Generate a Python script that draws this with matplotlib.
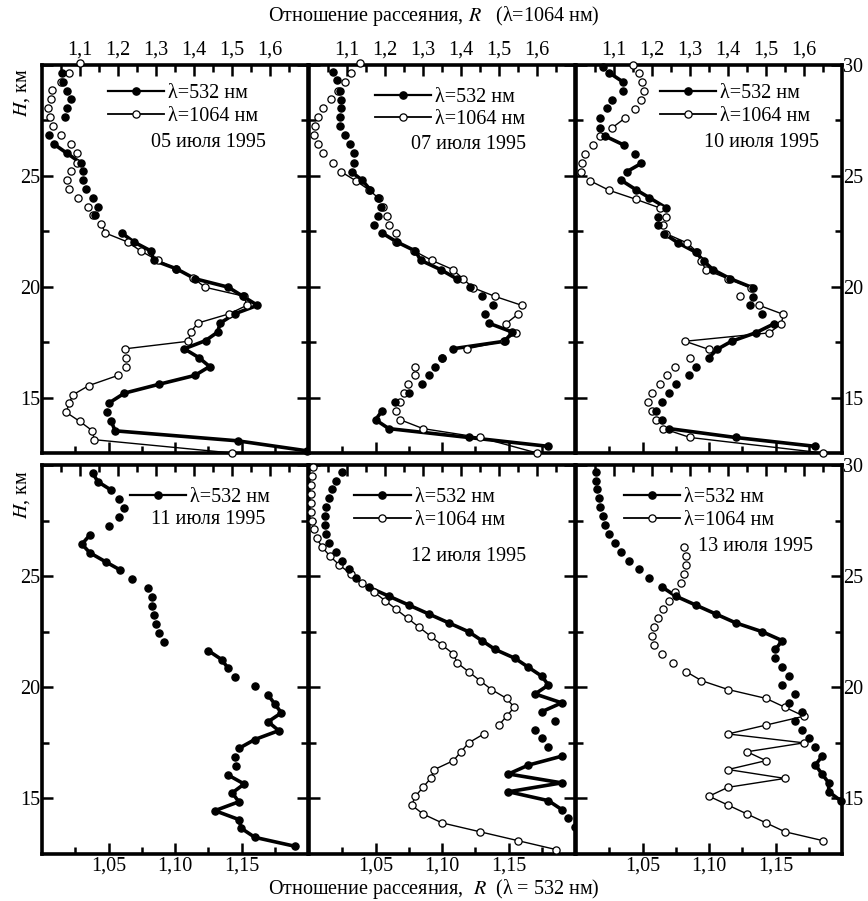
import numpy as np
import matplotlib.pyplot as plt
from matplotlib.lines import Line2D

plt.rcParams['font.family'] = ['Liberation Serif', 'DejaVu Serif']
plt.rcParams['mathtext.fontset'] = 'stix'
plt.rcParams['font.size'] = 14.5

# ---------------- data (R = scattering ratio, H = altitude, km) ----------------
# 05 июля 1995
h532_a = [29.62, 29.25, 28.84, 28.45, 28.04, 27.64, 26.84, 26.43, 26.01, 25.59, 25.22, 24.80,
          24.40, 24.02, 23.60, 23.22, 22.42, 22.02, 21.61, 21.19, 20.81, 20.36, 19.98, 19.57,
          19.16, 18.78, 18.36, 17.95, 17.57, 17.20, 16.80, 16.40, 16.00, 15.60, 15.20, 14.74,
          14.33, 13.93, 13.50, 13.05, 12.60]
r532_a = [1.015, 1.016, 1.019, 1.022, 1.019, 1.017, 1.005, 1.009, 1.019, 1.029, 1.031, 1.031,
          1.033, 1.038, 1.042, 1.040, 1.060, 1.069, 1.082, 1.084, 1.101, 1.115, 1.140, 1.151,
          1.162, 1.145, 1.134, 1.132, 1.123, 1.107, 1.118, 1.126, 1.115, 1.088, 1.062, 1.050,
          1.049, 1.052, 1.055, 1.147, 1.199]
j532_a = [(7, 9), (16, 35), (37, 40)]
h1064_a = [30.08, 29.65, 29.25, 28.87, 28.45, 28.04, 27.64, 27.24, 26.84, 26.43, 26.01, 25.59,
           25.22, 24.80, 24.40, 24.02, 23.60, 23.22, 22.82, 22.42, 22.02, 21.61, 21.19, 20.81,
           20.41, 19.98, 19.57, 19.16, 18.78, 18.36, 17.95, 17.54, 17.20, 16.80, 16.40, 16.00,
           15.54, 15.13, 14.74, 14.33, 13.93, 13.51, 13.10, 12.50]
r1064_a = [1.101, 1.071, 1.050, 1.027, 1.023, 1.017, 1.021, 1.030, 1.051, 1.075, 1.093, 1.092,
           1.075, 1.066, 1.071, 1.095, 1.121, 1.134, 1.156, 1.167, 1.225, 1.260, 1.304, 1.353,
           1.398, 1.428, 1.532, 1.539, 1.493, 1.410, 1.391, 1.385, 1.219, 1.220, 1.220, 1.200,
           1.123, 1.082, 1.071, 1.064, 1.099, 1.132, 1.138, 1.500]
j1064_a = [(18, 32), (35, 43)]

# 07 июля 1995
h532_b = [29.70, 29.32, 28.84, 28.42, 28.04, 27.64, 27.24, 26.84, 26.43, 26.01, 25.59, 25.18,
          24.80, 24.38, 23.98, 23.60, 23.19, 22.80, 22.42, 22.02, 21.61, 21.19, 20.77, 20.36,
          19.98, 19.56, 19.16, 18.75, 18.36, 17.95, 17.54, 17.20, 16.80, 16.40, 16.00, 15.60,
          15.20, 14.80, 14.40, 14.00, 13.60, 13.20, 12.80]
r532_b = [1.018, 1.021, 1.023, 1.024, 1.024, 1.023, 1.023, 1.027, 1.031, 1.034, 1.034, 1.032,
          1.040, 1.046, 1.052, 1.054, 1.052, 1.049, 1.055, 1.066, 1.080, 1.084, 1.099, 1.111,
          1.121, 1.130, 1.138, 1.132, 1.135, 1.153, 1.147, 1.108, 1.100, 1.095, 1.090, 1.085,
          1.075, 1.065, 1.055, 1.050, 1.060, 1.120, 1.180]
j532_b = [(11, 13), (18, 23), (28, 31), (38, 42)]
h1064_b = [30.08, 29.65, 29.25, 28.84, 28.45, 28.04, 27.64, 27.24, 26.84, 26.43, 26.01, 25.59,
           25.18, 24.77, 24.38, 23.98, 23.60, 23.19, 22.80, 22.42, 22.02, 21.61, 21.19, 20.77,
           20.36, 19.95, 19.56, 19.16, 18.75, 18.33, 17.92, 17.54, 17.20, 16.80, 16.40, 16.00,
           15.60, 15.20, 14.80, 14.40, 14.00, 13.60, 13.20, 12.50]
r1064_b = [1.133, 1.110, 1.094, 1.075, 1.059, 1.037, 1.024, 1.016, 1.014, 1.023, 1.036, 1.062,
           1.085, 1.124, 1.157, 1.184, 1.196, 1.204, 1.211, 1.229, 1.229, 1.277, 1.323, 1.379,
           1.405, 1.432, 1.490, 1.560, 1.549, 1.518, 1.546, 1.512, 1.416, 1.350, 1.280, 1.280,
           1.260, 1.250, 1.240, 1.230, 1.240, 1.300, 1.450, 1.600]
j1064_b = [(12, 15), (20, 27), (28, 29), (30, 32), (40, 43)]

# 10 июля 1995
h532_c = [29.92, 29.65, 29.25, 28.84, 28.42, 28.04, 27.59, 27.18, 26.79, 26.39, 25.98, 25.56,
          25.18, 24.80, 24.38, 24.02, 23.55, 23.15, 22.77, 22.40, 21.97, 21.56, 21.16, 20.77,
          20.36, 19.95, 19.53, 19.16, 18.75, 18.33, 17.92, 17.54, 17.17, 16.80, 16.40, 16.00,
          15.60, 15.20, 14.80, 14.40, 14.00, 13.60, 13.20, 12.80]
r532_c = [1.020, 1.025, 1.035, 1.035, 1.027, 1.023, 1.018, 1.018, 1.022, 1.036, 1.044, 1.049,
          1.038, 1.034, 1.045, 1.055, 1.068, 1.062, 1.062, 1.066, 1.077, 1.090, 1.096, 1.103,
          1.116, 1.133, 1.133, 1.131, 1.140, 1.149, 1.135, 1.117, 1.106, 1.100, 1.090, 1.085,
          1.075, 1.070, 1.065, 1.060, 1.065, 1.070, 1.120, 1.180]
j532_c = [(1, 2), (8, 9), (11, 12), (13, 16), (19, 25), (29, 33), (41, 43)]
h1064_c = [30.00, 29.65, 29.25, 28.84, 28.42, 28.00, 27.59, 27.18, 26.79, 26.39, 25.98, 25.56,
           25.18, 24.77, 24.35, 23.94, 23.55, 23.15, 22.77, 22.40, 21.97, 21.56, 21.16, 20.77,
           20.36, 19.95, 19.56, 19.16, 18.75, 18.33, 17.92, 17.54, 17.17, 16.80, 16.40, 16.00,
           15.60, 15.20, 14.80, 14.40, 14.00, 13.60, 13.20, 12.50]
r1064_c = [1.150, 1.165, 1.174, 1.178, 1.172, 1.154, 1.128, 1.096, 1.064, 1.044, 1.024, 1.017,
           1.012, 1.038, 1.087, 1.158, 1.221, 1.238, 1.230, 1.236, 1.293, 1.319, 1.330, 1.341,
           1.400, 1.461, 1.432, 1.482, 1.546, 1.540, 1.509, 1.287, 1.350, 1.300, 1.260, 1.240,
           1.220, 1.200, 1.190, 1.200, 1.210, 1.230, 1.300, 1.650]
j1064_c = [(6, 7), (13, 16), (19, 25), (27, 32), (41, 43)]

# 11 июля 1995 (only 532 nm)
h532_d = [29.65, 29.25, 28.87, 28.45, 28.05, 27.65, 27.25, 26.85, 26.44, 26.05, 25.64, 25.27,
          24.85, 24.45, 24.05, 23.65, 23.25, 22.85, 22.45, 22.05, 21.65, 21.25, 20.85, 20.45,
          20.05, 19.65, 19.25, 18.85, 18.45, 18.05, 17.65, 17.25, 16.85, 16.45, 16.05, 15.65,
          15.25, 14.85, 14.45, 14.05, 13.65, 13.25, 12.85]
r532_d = [1.038, 1.042, 1.052, 1.058, 1.062, 1.058, 1.050, 1.036, 1.030, 1.036, 1.048, 1.059,
          1.068, 1.080, 1.083, 1.083, 1.084, 1.086, 1.088, 1.092, 1.125, 1.135, 1.140, 1.145,
          1.160, 1.170, 1.175, 1.180, 1.170, 1.178, 1.160, 1.148, 1.145, 1.146, 1.140, 1.152,
          1.143, 1.148, 1.130, 1.148, 1.150, 1.160, 1.190]
j532_d = [(0, 2), (7, 11), (20, 22), (25, 31), (34, 42)]

# 12 июля 1995
h532_e = [29.70, 29.30, 28.90, 28.50, 28.10, 27.70, 27.30, 26.90, 26.50, 26.10, 25.70, 25.30,
          24.90, 24.50, 24.10, 23.70, 23.30, 22.90, 22.50, 22.10, 21.70, 21.30, 20.90, 20.50,
          20.10, 19.70, 19.30, 18.90, 18.50, 18.10, 17.70, 17.30, 16.90, 16.50, 16.10, 15.70,
          15.30, 14.90, 14.50, 14.10, 13.70]
r532_e = [1.025, 1.020, 1.017, 1.015, 1.013, 1.012, 1.012, 1.013, 1.015, 1.020, 1.025, 1.030,
          1.035, 1.045, 1.060, 1.075, 1.090, 1.105, 1.120, 1.130, 1.140, 1.155, 1.165, 1.175,
          1.180, 1.170, 1.190, 1.175, 1.185, 1.170, 1.175, 1.180, 1.190, 1.165, 1.150, 1.190,
          1.150, 1.180, 1.190, 1.195, 1.200]
j532_e = [(13, 27), (32, 38)]
h1064_e = [29.90, 29.50, 29.10, 28.70, 28.30, 27.90, 27.50, 27.10, 26.70, 26.30, 25.90, 25.50,
           25.10, 24.70, 24.30, 23.90, 23.50, 23.10, 22.70, 22.30, 21.90, 21.50, 21.10, 20.70,
           20.30, 19.90, 19.50, 19.10, 18.70, 18.30, 17.90, 17.50, 17.10, 16.70, 16.30, 15.90,
           15.50, 15.10, 14.70, 14.30, 13.90, 13.50, 13.10, 12.70]
r1064_e = [1.010, 1.008, 1.006, 1.005, 1.005, 1.006, 1.008, 1.012, 1.020, 1.035, 1.055, 1.080,
           1.110, 1.140, 1.170, 1.200, 1.230, 1.260, 1.290, 1.320, 1.350, 1.380, 1.390, 1.420,
           1.450, 1.480, 1.520, 1.540, 1.520, 1.500, 1.460, 1.420, 1.400, 1.380, 1.330, 1.320,
           1.300, 1.280, 1.270, 1.300, 1.350, 1.450, 1.550, 1.650]
j1064_e = [(8, 29), (30, 43)]

# 13 июля 1995
h532_f = [29.70, 29.30, 28.90, 28.50, 28.10, 27.70, 27.30, 26.90, 26.50, 26.10, 25.70, 25.30,
          24.90, 24.50, 24.10, 23.70, 23.30, 22.90, 22.50, 22.10, 21.70, 21.30, 20.90, 20.50,
          20.10, 19.70, 19.30, 18.90, 18.50, 18.10, 17.70, 17.30, 16.90, 16.50, 16.10, 15.70,
          15.30, 14.90]
r532_f = [1.015, 1.015, 1.016, 1.017, 1.018, 1.020, 1.022, 1.025, 1.029, 1.034, 1.040, 1.047,
          1.055, 1.065, 1.075, 1.090, 1.105, 1.120, 1.140, 1.155, 1.150, 1.150, 1.155, 1.160,
          1.155, 1.165, 1.160, 1.170, 1.165, 1.170, 1.175, 1.180, 1.185, 1.180, 1.185, 1.190,
          1.190, 1.199]
j532_f = [(13, 20), (32, 37)]
h1064_f = [26.30, 25.90, 25.50, 25.10, 24.70, 24.30, 23.90, 23.50, 23.10, 22.70, 22.30, 21.90,
           21.50, 21.10, 20.70, 20.30, 19.90, 19.50, 19.10, 18.70, 18.30, 17.90, 17.50, 17.10,
           16.70, 16.30, 15.90, 15.50, 15.10, 14.70, 14.30, 13.90, 13.50, 13.10]
r1064_f = [1.285, 1.290, 1.290, 1.285, 1.275, 1.260, 1.245, 1.230, 1.215, 1.205, 1.200, 1.205,
           1.225, 1.255, 1.290, 1.330, 1.400, 1.500, 1.550, 1.600, 1.500, 1.400, 1.600, 1.450,
           1.500, 1.400, 1.550, 1.400, 1.350, 1.400, 1.450, 1.500, 1.550, 1.650]
j1064_f = [(14, 33)]

panels = [
    (h532_a, r532_a, j532_a, h1064_a, r1064_a, j1064_a, '05 июля 1995'),
    (h532_b, r532_b, j532_b, h1064_b, r1064_b, j1064_b, '07 июля 1995'),
    (h532_c, r532_c, j532_c, h1064_c, r1064_c, j1064_c, '10 июля 1995'),
    (h532_d, r532_d, j532_d, None, None, None, '11 июля 1995'),
    (h532_e, r532_e, j532_e, h1064_e, r1064_e, j1064_e, '12 июля 1995'),
    (h532_f, r532_f, j532_f, h1064_f, r1064_f, j1064_f, '13 июля 1995'),
]

# legend anchor (x of line start, y of top) and date position (right x, center y), axes fraction
leg_pos = [(0.247, 0.95), (0.247, 0.94), (0.315, 0.95), (0.33, 0.94), (0.17, 0.94), (0.18, 0.94)]
date_pos = [(0.84, 0.80), (0.816, 0.794), (0.914, 0.80), (0.84, 0.86), (0.816, 0.765), (0.89, 0.79)]

W, H = 868, 901
lefts = [42, 309, 576]
pw = 266
rows = [(65, 453), (465, 854)]

fig = plt.figure(figsize=(W / 100, H / 100), dpi=100)

MS = 5.2


def plot_series(axis, h, r, joins, filled):
    lw = 2.6 if filled else 1.0
    for i0, i1 in joins:
        axis.plot(r[i0:i1 + 1], h[i0:i1 + 1], color='k', lw=lw, zorder=2)
    axis.plot(r, h, ls='none', marker='o', ms=MS, mfc='k' if filled else 'w',
              mec='k', mew=0.9, clip_on=False, zorder=3)


for k, (h5, r5, j5, h10, r10, j10, date) in enumerate(panels):
    row, col = divmod(k, 3)
    y0, y1 = rows[row]
    ax = fig.add_axes([lefts[col] / W, 1 - y1 / H, pw / W, (y1 - y0) / H])
    ax.set_xlim(1.0, 1.2)
    ax.set_ylim(12.5, 30)
    ax2 = ax.twiny()
    ax2.set_xlim(1.0, 1.7)

    if h10 is not None:
        plot_series(ax2, h10, r10, j10, False)
    # 532 nm series drawn on the lower (1.0-1.2) scale via the same axes mapping
    plot_series(ax2, h5, [1.0 + (v - 1.0) * 3.5 for v in r5], j5, True)

    ax.set_xticks([1.05, 1.10, 1.15], ['1,05', '1,10', '1,15'])
    ax.set_xticks([1.025, 1.075, 1.125, 1.175], minor=True)
    ylab = ['15', '20', '25', '30'] if col == 2 else ['15', '20', '25', '']
    ax.set_yticks([15, 20, 25, 30], ylab)
    ax.set_yticks([17.5, 22.5, 27.5], minor=True)
    ax.tick_params(which='both', direction='in', left=True, right=True, top=False, bottom=True,
                   width=1.8, labelbottom=(row == 1), labelleft=(col == 0),
                   labelright=(col == 2))
    ax.tick_params(axis='x', pad=2)
    ax.tick_params(axis='y', pad=1)
    ax.tick_params(which='major', length=8)
    ax.tick_params(which='minor', length=5)

    ax2.set_xticks([1.1, 1.2, 1.3, 1.4, 1.5, 1.6], ['1,1', '1,2', '1,3', '1,4', '1,5', '1,6'])
    ax2.set_xticks([1.05, 1.15, 1.25, 1.35, 1.45, 1.55, 1.65], minor=True)
    ax2.tick_params(which='both', direction='in', top=True, width=1.8,
                    labeltop=(row == 0), pad=4)
    ax2.tick_params(which='major', length=8)
    ax2.tick_params(which='minor', length=5)
    for s in ax.spines.values():
        s.set_linewidth(2.6)
    for s in ax2.spines.values():
        s.set_visible(False)

    hf = Line2D([], [], color='k', lw=1.6, marker='o', ms=MS, mfc='k', mec='k')
    ho = Line2D([], [], color='k', lw=1.3, marker='o', ms=MS, mfc='w', mec='k', mew=0.9)
    if h10 is not None:
        handles, labels = [hf, ho], ['λ=532 нм', 'λ=1064 нм']
    else:
        handles, labels = [hf], ['λ=532 нм']
    lx, ly = leg_pos[k]
    ax2.legend(handles, labels, loc='upper left', bbox_to_anchor=(lx, ly), frameon=False,
               handlelength=2.8, handletextpad=0.2, labelspacing=0.15, borderpad=0,
               borderaxespad=0)
    dx, dy = date_pos[k]
    ax2.text(dx, dy, date, transform=ax2.transAxes, ha='right', va='center')

fig.text(0.5, 1 - 16 / H, 'Отношение рассеяния, $R$   (λ=1064 нм)', ha='center', va='center')
fig.text(0.5, 1 - 889 / H, 'Отношение рассеяния,  $R$  (λ = 532 нм)', ha='center', va='center')
fig.text(22 / W, 1 - 93 / H, '$H$, км', rotation=90, ha='center', va='center')
fig.text(22 / W, 1 - 495 / H, '$H$, км', rotation=90, ha='center', va='center')

fig.savefig('out.png', dpi=100)
